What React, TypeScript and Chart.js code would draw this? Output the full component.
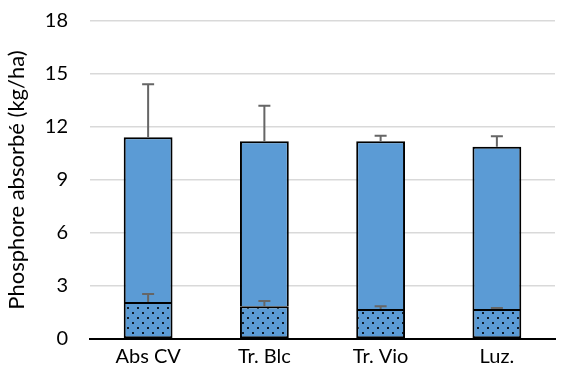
import React, { useEffect, useRef } from "react";
import { Chart, registerables } from "chart.js";

Chart.register(...registerables);

const categories = ["Abs CV", "Tr. Blc", "Tr. Vio", "Luz."];
const bottomValues = [2.1, 1.85, 1.7, 1.7];
const totalValues = [11.42, 11.2, 11.2, 10.88];
const bottomErrors = [0.45, 0.3, 0.15, 0.05];
const totalErrors = [3.0, 2.0, 0.3, 0.6];
const yTicks = [0, 3, 6, 9, 12, 15, 18];

const topValues = totalValues.map((t, i) => t - bottomValues[i]);

const BLUE = "#5B9BD5";
const FONT = "Lato";

function makePattern(): CanvasPattern | string {
  const c = document.createElement("canvas");
  c.width = 10;
  c.height = 10;
  const ctx = c.getContext("2d");
  if (!ctx) return BLUE;
  ctx.fillStyle = BLUE;
  ctx.fillRect(0, 0, 10, 10);
  ctx.fillStyle = "#0d1b2a";
  ctx.fillRect(2, 2, 2, 2);
  ctx.fillRect(7, 7, 2, 2);
  const p = ctx.createPattern(c, "repeat");
  return p || BLUE;
}

const errorBarPlugin = {
  id: "errorBars",
  afterDatasetsDraw(chart: any) {
    const ctx = chart.ctx;
    const yScale = chart.scales.y;
    const sets = [
      { idx: 0, base: bottomValues, err: bottomErrors },
      { idx: 1, base: totalValues, err: totalErrors },
    ];
    ctx.save();
    ctx.strokeStyle = "#666666";
    ctx.lineWidth = 2;
    sets.forEach((s) => {
      const meta = chart.getDatasetMeta(s.idx);
      meta.data.forEach((el: any, i: number) => {
        const x = el.x;
        const y0 = yScale.getPixelForValue(s.base[i]);
        const y1 = yScale.getPixelForValue(s.base[i] + s.err[i]);
        ctx.beginPath();
        ctx.moveTo(x, y0);
        ctx.lineTo(x, y1);
        ctx.moveTo(x - 6, y1);
        ctx.lineTo(x + 6, y1);
        ctx.stroke();
      });
    });
    ctx.restore();
  },
};

export default function App() {
  const ref = useRef<HTMLCanvasElement | null>(null);
  useEffect(() => {
    document.body.style.margin = "0";
    if (!ref.current) return;
    const pattern = makePattern();
    const chart = new Chart(ref.current, {
      type: "bar",
      data: {
        labels: categories,
        datasets: [
          {
            label: "bottom",
            data: bottomValues,
            backgroundColor: pattern as any,
            borderColor: "#000000",
            borderWidth: 2,
            borderSkipped: false,
            barPercentage: 0.42,
            categoryPercentage: 1,
          },
          {
            label: "top",
            data: topValues,
            backgroundColor: BLUE,
            borderColor: "#000000",
            borderWidth: 2,
            borderSkipped: "bottom",
            barPercentage: 0.42,
            categoryPercentage: 1,
          },
        ],
      },
      plugins: [errorBarPlugin],
      options: {
        responsive: false,
        animation: false,
        layout: { padding: { top: 0, right: 14, left: 4, bottom: 1 } },
        plugins: { legend: { display: false }, tooltip: { enabled: false } },
        scales: {
          x: {
            stacked: true,
            grid: { display: false, drawTicks: false },
            border: { display: true, color: "#000000", width: 2 },
            ticks: {
              color: "#000000",
              font: { family: FONT, size: 20 },
              padding: 6,
            },
          },
          y: {
            stacked: true,
            min: 0,
            max: 18,
            afterBuildTicks: (scale: any) => {
              scale.ticks = yTicks.map((v) => ({ value: v }));
            },
            afterFit: (scale: any) => {
              scale.paddingTop = 21;
              scale.paddingBottom = 0;
              scale.width = 86;
            },
            grid: { color: "#d9d9d9", lineWidth: 1.5, drawTicks: false },
            border: { display: false },
            ticks: {
              color: "#000000",
              font: { family: FONT, size: 20 },
              padding: 22,
            },
            title: {
              display: true,
              text: "Phosphore absorbé (kg/ha)",
              color: "#000000",
              font: { family: FONT, size: 22 },
              padding: { top: 0, bottom: 8 },
            },
          },
        },
      },
    });
    return () => chart.destroy();
  }, []);
  return (
    <div style={{ width: 569, height: 376 }}>
      <canvas ref={ref} width={569} height={376} />
    </div>
  );
}
